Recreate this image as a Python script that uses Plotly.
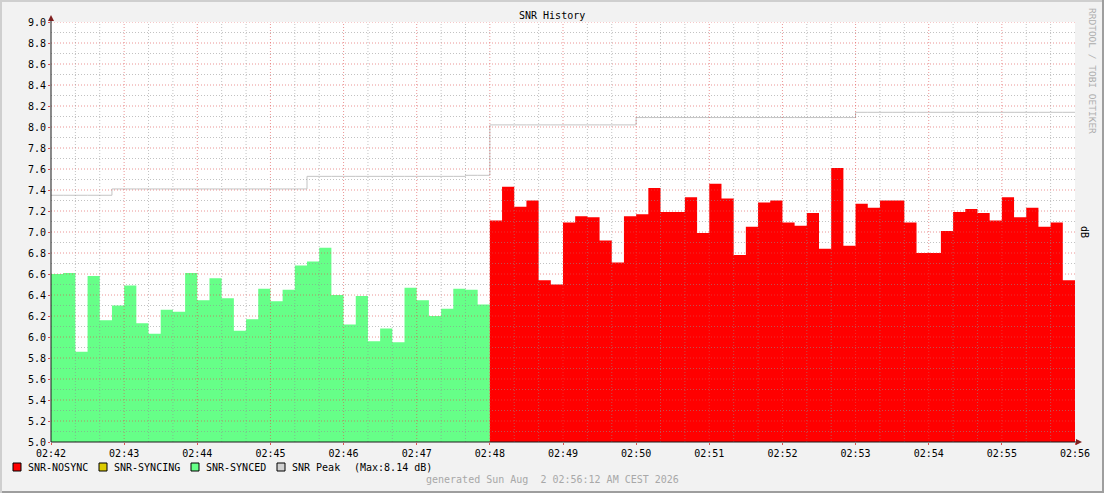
import pandas as pd
import plotly.graph_objects as go

# samples every 10 s, 02:42:00 .. 02:55:50
start = pd.Timestamp("2026-08-02 02:42:00")
step_s = 10

snr_synced = [6.60, 6.61, 5.86, 6.58, 6.16, 6.30, 6.49, 6.13, 6.03, 6.26,
              6.24, 6.61, 6.35, 6.56, 6.37, 6.06, 6.17, 6.46, 6.34, 6.45,
              6.68, 6.72, 6.85, 6.40, 6.12, 6.39, 5.96, 6.08, 5.95, 6.47,
              6.35, 6.20, 6.27, 6.46, 6.45, 6.31]

snr_nosync = [7.11, 7.43, 7.24, 7.30, 6.54, 6.50, 7.09, 7.15, 7.14, 6.92,
              6.71, 7.15, 7.17, 7.42, 7.19, 7.19, 7.33, 6.99, 7.46, 7.32,
              6.78, 7.05, 7.28, 7.30, 7.09, 7.06, 7.18, 6.84, 7.61, 6.87,
              7.27, 7.23, 7.30, 7.30, 7.09, 6.80, 6.80, 7.01, 7.19, 7.22,
              7.18, 7.11, 7.33, 7.14, 7.23, 7.05, 7.09, 6.54]

snr_peak = [7.35, 7.35, 7.35, 7.35, 7.35, 7.41, 7.41, 7.41, 7.41, 7.41,
            7.41, 7.41, 7.41, 7.41, 7.41, 7.41, 7.41, 7.41, 7.41, 7.41,
            7.41, 7.53, 7.53, 7.53, 7.53, 7.53, 7.53, 7.53, 7.53, 7.53,
            7.53, 7.53, 7.53, 7.53, 7.54, 7.54, 8.02, 8.02, 8.02, 8.02,
            8.02, 8.02, 8.02, 8.02, 8.02, 8.02, 8.02, 8.02, 8.09, 8.09,
            8.09, 8.09, 8.09, 8.09, 8.09, 8.09, 8.09, 8.09, 8.09, 8.09,
            8.09, 8.09, 8.09, 8.09, 8.09, 8.09, 8.14, 8.14, 8.14, 8.14,
            8.14, 8.14, 8.14, 8.14, 8.14, 8.14, 8.14, 8.14, 8.14, 8.14,
            8.14, 8.14, 8.14, 8.14]

legend_names = ["SNR-NOSYNC", "SNR-SYNCING", "SNR-SYNCED", "SNR Peak"]
legend_colors = ["#FF0000", "#DDCC00", "#66FF88", "#D0D0D0"]
peak_note = "(Max:8.14 dB)"

n_all = len(snr_synced) + len(snr_nosync)
times = [start + pd.Timedelta(seconds=step_s * i) for i in range(n_all + 1)]
end = times[-1]
n_s = len(snr_synced)
t_synced = times[:n_s + 1]
t_nosync = times[n_s:]

W, H = 1104, 493
L, R, T, B = 51, 29, 22, 51
PW, PH = W - L - R, H - T - B


def px(x):   # pixel -> paper
    return (x - L) / PW


def py(y):
    return (H - B - y) / PH


mono = "DejaVu Sans Mono"

fig = go.Figure()
# step areas (rrdtool AREA), last value held to the end of its interval
fig.add_trace(go.Scatter(x=t_synced, y=snr_synced + [snr_synced[-1]],
                         mode="lines", fill="tozeroy", fillcolor="#66FF88",
                         line=dict(width=0, shape="hv"), name="SNR-SYNCED"))
fig.add_trace(go.Scatter(x=t_nosync, y=snr_nosync + [snr_nosync[-1]],
                         mode="lines", fill="tozeroy", fillcolor="#FF0000",
                         line=dict(width=0, shape="hv"), name="SNR-NOSYNC"))
fig.add_trace(go.Scatter(x=times, y=snr_peak + [snr_peak[-1]],
                         mode="lines", line=dict(color="#C4C4C4", width=1, shape="hv"),
                         name="SNR Peak"))

shapes = []
# grid on top of the fill, like rrdtool
minor_col = "rgba(143,143,143,0.55)"
major_col = "rgba(222,79,79,0.6)"
for k in range(1, 41):
    v = 5 + k * 0.1
    shapes.append(dict(type="line", xref="paper", yref="y", x0=0, x1=1, y0=v, y1=v,
                       layer="above",
                       line=dict(color=major_col if k % 2 == 0 else minor_col,
                                 width=1, dash="1px,2px")))
for k in range(1, 42):
    t = start + pd.Timedelta(seconds=20 * k)
    shapes.append(dict(type="line", xref="x", yref="paper", x0=t, x1=t, y0=0, y1=1,
                       layer="above",
                       line=dict(color=major_col if k % 3 == 0 else minor_col,
                                 width=1, dash="1px,2px")))

# axes with arrows
shapes.append(dict(type="line", xref="paper", yref="paper", x0=px(L), x1=px(1078),
                   y0=0, y1=0, line=dict(color="#1A1A1A", width=1), layer="above"))
shapes.append(dict(type="line", xref="paper", yref="paper", x0=0, x1=0,
                   y0=0, y1=py(19), line=dict(color="#1A1A1A", width=1), layer="above"))
shapes.append(dict(type="path", xref="paper", yref="paper", layer="above",
                   path=f"M {px(1082)} {py(442)} L {px(1076)} {py(439)} L {px(1076)} {py(445)} Z",
                   fillcolor="#7F1F1F", line=dict(width=0)))
shapes.append(dict(type="path", xref="paper", yref="paper", layer="above",
                   path=f"M {px(L)} {py(15)} L {px(48)} {py(21)} L {px(54)} {py(21)} Z",
                   fillcolor="#7F1F1F", line=dict(width=0)))

# 3d frame
shapes.append(dict(type="rect", xref="paper", yref="paper", x0=px(0), x1=px(W),
                   y0=py(0), y1=py(2), fillcolor="#CFCFCF", line=dict(width=0)))
shapes.append(dict(type="rect", xref="paper", yref="paper", x0=px(0), x1=px(2),
                   y0=py(0), y1=py(H), fillcolor="#CFCFCF", line=dict(width=0)))
shapes.append(dict(type="rect", xref="paper", yref="paper", x0=px(W - 2), x1=px(W),
                   y0=py(0), y1=py(H), fillcolor="#9E9E9E", line=dict(width=0)))
shapes.append(dict(type="rect", xref="paper", yref="paper", x0=px(2), x1=px(W),
                   y0=py(H - 2), y1=py(H), fillcolor="#9E9E9E", line=dict(width=0)))

annotations = []
# legend
box_x = [13, 99, 191, 277]
text_x = [26, 112, 204, 290]
for name, col, bx, tx in zip(legend_names, legend_colors, box_x, text_x):
    shapes.append(dict(type="rect", xref="paper", yref="paper",
                       x0=px(bx), x1=px(bx + 8), y0=py(463), y1=py(471),
                       fillcolor=col, line=dict(color="#000000", width=1)))
    annotations.append(dict(xref="paper", yref="paper", x=px(tx), y=py(467),
                            text=name, showarrow=False, xanchor="left", yanchor="middle",
                            font=dict(family=mono, size=10, color="#000000")))
annotations.append(dict(xref="paper", yref="paper", x=px(352), y=py(467),
                        text=peak_note, showarrow=False, xanchor="left", yanchor="middle",
                        font=dict(family=mono, size=10, color="#000000")))

annotations.append(dict(xref="paper", yref="paper", x=px(552), y=py(15),
                        text="SNR History", showarrow=False, xanchor="center",
                        yanchor="middle", font=dict(family=mono, size=10, color="#000000")))
annotations.append(dict(xref="paper", yref="paper", x=px(1085), y=py(232),
                        text="dB", showarrow=False, textangle=90, xanchor="center",
                        yanchor="middle", font=dict(family=mono, size=10, color="#000000")))
annotations.append(dict(xref="paper", yref="paper", x=px(1093), y=py(71),
                        text="RRDTOOL / TOBI OETIKER", showarrow=False, textangle=90,
                        xanchor="center", yanchor="middle",
                        font=dict(family=mono, size=9.5, color="#ADADAD")))
annotations.append(dict(xref="paper", yref="paper", x=px(552), y=py(480),
                        text="generated Sun Aug \u00a02 02:56:12 AM CEST 2026",
                        showarrow=False, xanchor="center", yanchor="middle",
                        font=dict(family=mono, size=10, color="#A8A8A8")))

fig.update_layout(
    width=W, height=H,
    margin=dict(l=L, r=R, t=T, b=B, pad=0),
    paper_bgcolor="#F2F2F2", plot_bgcolor="#FFFFFF",
    showlegend=False,
    shapes=shapes, annotations=annotations,
    font=dict(family=mono, size=10, color="#000000"),
)
fig.update_xaxes(type="date", range=[start, end], dtick=60000, tickformat="%H:%M",
                 showgrid=False, zeroline=False, showline=False,
                 ticks="outside", ticklen=2, tickcolor="#DE4F4F",
                 tickfont=dict(family=mono, size=10, color="#000000"))
fig.update_yaxes(range=[5, 9], dtick=0.2, tick0=5, tickformat=".1f",
                 showgrid=False, zeroline=False, showline=False,
                 ticks="outside", ticklen=2, tickcolor="#DE4F4F",
                 tickfont=dict(family=mono, size=10, color="#000000"))

fig.write_html("out.html", config={"displayModeBar": False},
               post_script="document.body.style.margin='0';")
